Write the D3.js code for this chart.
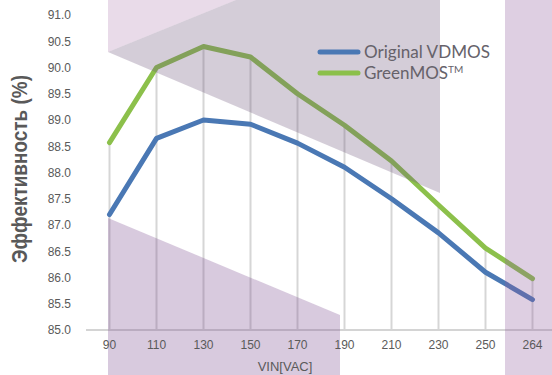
<!DOCTYPE html>
<html><head><meta charset="utf-8">
<script src="https://cdn.jsdelivr.net/npm/d3@7"></script>
<style>html,body{margin:0;padding:0;background:#fff;}svg{display:block;}</style>
</head><body>
<svg id="c" width="552" height="375"></svg>
<script>
const categories = ["90","110","130","150","170","190","210","230","250","264"];
const originalVDMOS = [87.2, 88.65, 89.0, 88.92, 88.56, 88.1, 87.5, 86.85, 86.1, 85.58];
const greenMOS = [88.57, 90.0, 90.4, 90.2, 89.5, 88.9, 88.22, 87.38, 86.56, 85.98];
const yTicks = [85.0, 85.5, 86.0, 86.5, 87.0, 87.5, 88.0, 88.5, 89.0, 89.5, 90.0, 90.5, 91.0];
const seriesNames = ["Original VDMOS", "GreenMOS"];
const seriesColors = ["#4a78b4", "#8cc04b"];

const W = 552, H = 375;
const svg = d3.select("#c");
const x = d3.scaleBand().domain(categories).range([86, 556]);
const cx = c => x(c) + x.bandwidth() / 2;
const y = d3.scaleLinear().domain([85, 91]).range([330, 15]);

const gLines = svg.append("g");
// drop lines
gLines.selectAll("line.drop").data(categories).join("line")
  .attr("x1", d => cx(d)).attr("x2", d => cx(d))
  .attr("y1", y(85)).attr("y2", (d, i) => y(Math.max(originalVDMOS[i], greenMOS[i])))
  .attr("stroke", "#d6d6d6").attr("stroke-width", 2);
// x axis line
gLines.append("line").attr("x1", 86).attr("x2", W).attr("y1", y(85)).attr("y2", y(85))
  .attr("stroke", "#d4d4d4").attr("stroke-width", 2);

const line = d3.line().x((d, i) => cx(categories[i])).y(d => y(d));
[originalVDMOS, greenMOS].forEach((s, k) => {
  gLines.append("path").attr("d", line(s)).attr("fill", "none")
    .attr("stroke", seriesColors[k]).attr("stroke-width", 5)
    .attr("stroke-linejoin", "round").attr("stroke-linecap", "round");
});

// decorative translucent overlays
const deco = svg.append("g");
const shapes = [
  {pts: [[108,0],[236,0],[108,52]], fill: "rgb(182,135,182)"},
  {pts: [[108,52],[236,0],[440,0],[440,193]], fill: "rgb(112,88,125)"},
  {pts: [[108,218],[340,315],[340,375],[108,375]], fill: "rgb(125,78,145)"},
  {pts: [[505,0],[552,0],[552,375],[505,375]], fill: "rgb(145,95,158)"}
];
deco.selectAll("polygon").data(shapes).join("polygon")
  .attr("points", d => d.pts.map(p => p.join(",")).join(" "))
  .attr("fill", d => d.fill).attr("fill-opacity", 0.3);

// y axis
const yAxis = d3.axisLeft(y).tickValues(yTicks).tickFormat(d3.format(".1f")).tickSize(0).tickPadding(15);
const gy = svg.append("g").attr("transform", "translate(86,0)").call(yAxis);
gy.select(".domain").remove();
gy.selectAll("text").attr("font-family", "'Liberation Sans', Arial, sans-serif").attr("font-size", 12).attr("fill", "#5a5a5a");

// x axis labels
const xAxis = d3.axisBottom(x).tickSize(0).tickPadding(10);
const gx = svg.append("g").attr("transform", `translate(0,${y(85)})`).call(xAxis);
gx.select(".domain").remove();
gx.selectAll("text").attr("font-family", "'Liberation Sans', Arial, sans-serif").attr("font-size", 12).attr("fill", "#5a5a5a");

svg.append("text").attr("x", 285).attr("y", 371).attr("text-anchor", "middle")
  .attr("font-family", "'Liberation Sans', Arial, sans-serif").attr("font-size", 13).attr("fill", "#5a5a5a")
  .text("VIN[VAC]");

svg.append("text").attr("transform", "translate(27,169) rotate(-90)").attr("text-anchor", "middle")
  .attr("font-family", "'Liberation Sans Narrow', 'Arial Narrow', 'Liberation Sans', sans-serif")
  .attr("font-weight", "bold").attr("font-size", 22).attr("fill", "#595959")
  .attr("textLength", 188).attr("lengthAdjust", "spacingAndGlyphs")
  .text("Эффективность (%)");

// legend
const lg = svg.append("g");
seriesNames.forEach((n, k) => {
  const yy = 52 + k * 21;
  lg.append("line").attr("x1", 320).attr("x2", 358).attr("y1", yy).attr("y2", yy)
    .attr("stroke", seriesColors[k]).attr("stroke-width", 5).attr("stroke-linecap", "round");
  const t = lg.append("text").attr("x", 364).attr("y", yy + 6)
    .attr("font-family", "Lato, 'Open Sans', sans-serif").attr("font-size", 17).attr("fill", "#66626a")
    .text(n);
  if (k === 1) {
    t.append("tspan").attr("font-size", 10).attr("dy", -6).text("TM");
  } else {
    t.attr("textLength", 126).attr("lengthAdjust", "spacingAndGlyphs");
  }
});
</script>
</body></html>
